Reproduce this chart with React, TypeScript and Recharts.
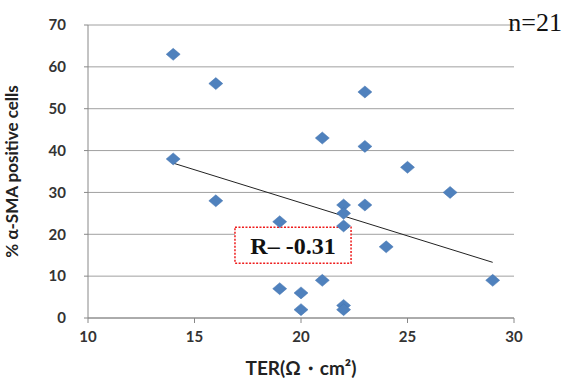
import React from 'react';
import { ScatterChart, Scatter, XAxis, YAxis, CartesianGrid, ReferenceArea } from 'recharts';

const terValues = [14, 14, 16, 16, 19, 19, 20, 20, 21, 21, 22, 22, 22, 22, 22, 23, 23, 23, 24, 25, 27, 29];
const smaValues = [63, 38, 56, 28, 23, 7, 6, 2, 43, 9, 27, 25, 22, 3, 2, 54, 41, 27, 17, 36, 30, 9];
const trendX = [14, 29];
const trendY = [37, 13.3];
const xTicks = [10, 15, 20, 25, 30];
const yTicks = [0, 10, 20, 30, 40, 50, 60, 70];
const rBox = { x1: 16.9, x2: 22.35, y1: 13.1, y2: 21.7 };
const rText = 'R– -0.31';
const nText = 'n=21';

const points = terValues.map((x, i) => ({ x, y: smaValues[i] }));
const trend = trendX.map((x, i) => ({ x, y: trendY[i] }));

const Diamond = (props: any) => {
  const { cx, cy } = props;
  if (cx == null || cy == null) return null;
  const w = 7, h = 6;
  return (
    <polygon
      points={`${cx},${cy - h} ${cx + w},${cy} ${cx},${cy + h} ${cx - w},${cy}`}
      fill="#4F81BD"
      stroke="#4575b0"
      strokeWidth={0.5}
    />
  );
};

const tickStyle = { fontFamily: 'Lato, sans-serif', fontWeight: 700, fontSize: 15, fill: '#333' };

export default function App() {
  return (
    <div style={{ position: 'absolute', left: 0, top: 0, width: 566, height: 380, background: '#fff' }}>
      <ScatterChart width={566} height={380} margin={{ top: 25, right: 52, bottom: 0, left: 0 }}>
        <CartesianGrid horizontal vertical={false} stroke="#a0a0a0" strokeWidth={1} />
        <XAxis
          type="number"
          dataKey="x"
          domain={[10, 30]}
          ticks={xTicks}
          height={62}
          stroke="#888"
          tickSize={5}
          tick={tickStyle}
          tickMargin={8}
          allowDataOverflow
          label={{ value: 'TER(Ω・cm²)', position: 'insideBottom', offset: 5, style: { fontFamily: 'Lato, sans-serif', fontWeight: 700, fontSize: 19, fill: '#222' } }}
        />
        <YAxis
          type="number"
          dataKey="y"
          domain={[0, 70]}
          ticks={yTicks}
          width={88}
          stroke="#888"
          tickSize={4}
          tick={tickStyle}
          tickMargin={18}
          label={{ value: '% α-SMA positive cells', angle: -90, position: 'insideLeft', offset: 12, style: { textAnchor: 'middle', fontFamily: 'Lato, sans-serif', fontWeight: 700, fontSize: 17, fill: '#222' } }}
        />
        <Scatter
          data={trend}
          line={{ stroke: '#222', strokeWidth: 1 }}
          shape={() => null}
          isAnimationActive={false}
        />
        <Scatter data={points} shape={<Diamond />} isAnimationActive={false} />
        <ReferenceArea
          x1={rBox.x1}
          x2={rBox.x2}
          y1={rBox.y1}
          y2={rBox.y2}
          fill="#fff"
          fillOpacity={1}
          stroke="#ee1c1c"
          strokeWidth={1.5}
          strokeDasharray="2 1.5"
          label={{ value: rText, position: 'center', style: { fontFamily: '"Liberation Serif", serif', fontSize: 24, fontWeight: 700, fill: '#111' } }}
        />
        <text x={562} y={31} textAnchor="end" style={{ fontFamily: '"Liberation Serif", serif', fontSize: 26, fill: '#111' }}>
          {nText}
        </text>
      </ScatterChart>
    </div>
  );
}
